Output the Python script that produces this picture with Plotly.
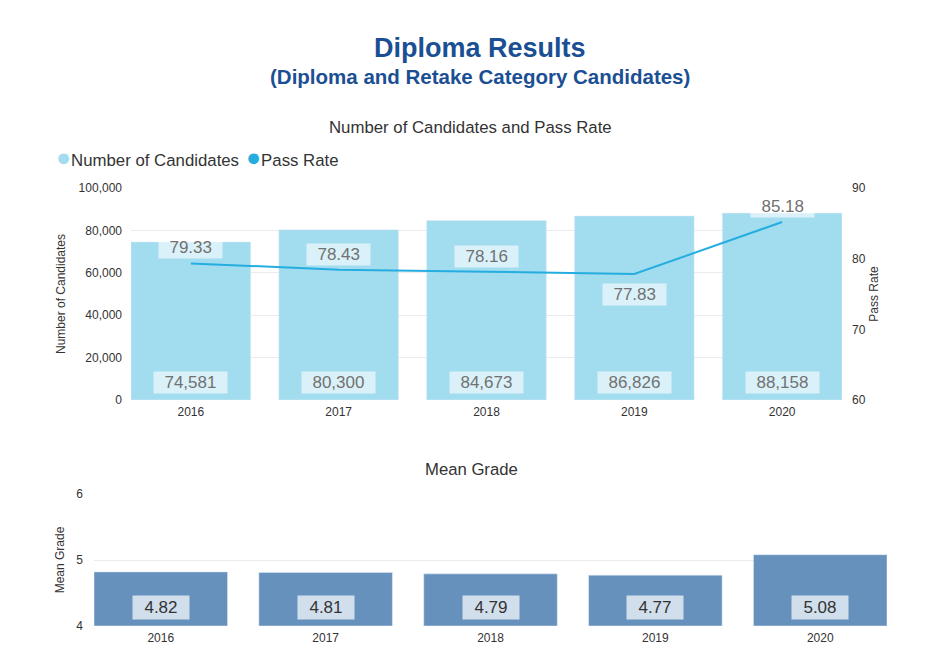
import plotly.graph_objects as go

# --- data ---
years = [2016, 2017, 2018, 2019, 2020]
candidates = [74581, 80300, 84673, 86826, 88158]
pass_rate = [79.33, 78.43, 78.16, 77.83, 85.18]
mean_grade = [4.82, 4.81, 4.79, 4.77, 5.08]
series_names = ["Number of Candidates", "Pass Rate"]

# page body keeps an 8px margin, so the figure is drawn 8px in from the corner
OFF = 8
W, H = 939 - 2 * OFF, 671 - 2 * OFF
FONT = "Liberation Sans, Arial, sans-serif"
BAR_LIGHT = "#a2dcef"
LINE_BLUE = "#26ade0"
BAR_STEEL = "#6691bd"
GRID = "#ebebeb"
TITLE_BLUE = "#1b4f93"
BAR_W = 0.81  # bars touch the plot edges, as in the original


def px_x(p):
    return (p - OFF) / W


def px_y(p):
    return 1 - (p - OFF) / H


def pad(s):
    return "\u00a0\u00a0" + s + "\u00a0\u00a0"


fig = go.Figure()

# top: candidates bars + pass rate line
fig.add_trace(go.Bar(
    x=years, y=candidates, name=series_names[0], width=BAR_W,
    marker_color=BAR_LIGHT, showlegend=False,
))
fig.add_trace(go.Scatter(
    x=years, y=pass_rate, name=series_names[1], mode="lines",
    line=dict(color=LINE_BLUE, width=2), showlegend=False,
    yaxis="y2",
))

# bottom: mean grade bars (base at axis minimum)
fig.add_trace(go.Bar(
    x=years, y=[g - 4 for g in mean_grade], base=4, width=BAR_W,
    marker_color=BAR_STEEL, showlegend=False,
    xaxis="x3", yaxis="y3",
))

annotations = []

# value boxes for candidates, sitting at the bottom of each bar
for yr, v in zip(years, candidates):
    annotations.append(dict(
        x=yr, y=0, xref="x", yref="y", text=pad(f"{v:,}"),
        showarrow=False, xanchor="center", yanchor="bottom", yshift=6,
        font=dict(family=FONT, size=17, color="#717171"),
        bgcolor="rgba(255,255,255,0.6)", borderpad=1,
    ))

# pass rate labels: below the point at a local minimum, otherwise above
for i, (yr, v) in enumerate(zip(years, pass_rate)):
    left = pass_rate[i - 1] if i > 0 else None
    right = pass_rate[i + 1] if i < len(pass_rate) - 1 else None
    below = left is not None and right is not None and v < left and v < right
    annotations.append(dict(
        x=yr, y=v, xref="x", yref="y2", text=pad(f"{v:.2f}"),
        showarrow=False, xanchor="center",
        yanchor="top" if below else "bottom",
        yshift=-9 if below else 4,
        font=dict(family=FONT, size=17, color="#717171"),
        bgcolor="rgba(255,255,255,0.6)", borderpad=1,
    ))

# mean grade boxes
for yr, v in zip(years, mean_grade):
    annotations.append(dict(
        x=yr, y=4, xref="x3", yref="y3", text=pad(f"{v:.2f}"),
        showarrow=False, xanchor="center", yanchor="bottom", yshift=6,
        font=dict(family=FONT, size=17, color="#333333"),
        bgcolor="rgba(255,255,255,0.7)", borderpad=2,
    ))

# compact legend with round dots, as in the original
for name, color, x in zip(series_names, [BAR_LIGHT, LINE_BLUE], [54, 244]):
    annotations.append(dict(
        x=px_x(x), y=px_y(157), xref="paper", yref="paper",
        text=(f'<span style="color:{color};font-size:25px">\u25cf</span>'
              f"{name}"),
        showarrow=False, xanchor="left", yanchor="middle",
        font=dict(family=FONT, size=16.8, color="#333333"),
    ))

# titles
titles = [
    ("<b>Diploma Results</b>", 480, 48, 27, TITLE_BLUE),
    ("<b>(Diploma and Retake Category Candidates)</b>", 480, 76, 20.5, TITLE_BLUE),
    ("Number of Candidates and Pass Rate", 471, 128, 16.8, "#333333"),
    ("Mean Grade", 472, 469, 16.7, "#333333"),
]
for text, x, y, size, color in titles:
    annotations.append(dict(
        x=px_x(x), y=px_y(y), xref="paper", yref="paper", text=text,
        showarrow=False, xanchor="center", yanchor="middle",
        font=dict(family=FONT, size=size, color=color),
    ))

tick_font = dict(family=FONT, size=12, color="#333333")
title_font = dict(family=FONT, size=12, color="#333333")
half = BAR_W / 2

fig.update_layout(
    width=W, height=H,
    margin=dict(l=0, r=0, t=0, b=0, autoexpand=False),
    paper_bgcolor="white", plot_bgcolor="white",
    font=dict(family=FONT, color="#333333"),
    showlegend=False,
    annotations=annotations,
    xaxis=dict(
        domain=[px_x(131), px_x(842)], anchor="y",
        range=[years[0] - half, years[-1] + half], tickvals=years,
        showgrid=False, showline=False, ticks="", ticklabelstandoff=3,
        zeroline=False, tickfont=tick_font,
    ),
    yaxis=dict(
        domain=[px_y(400), px_y(188)], anchor="x",
        range=[0, 100000], dtick=20000, tickformat=",",
        gridcolor=GRID, zeroline=False, tickfont=tick_font,
        ticklabelstandoff=8,
        title=dict(text="Number of Candidates", font=title_font, standoff=10),
    ),
    yaxis2=dict(
        overlaying="y", side="right", anchor="x",
        range=[60, 90], dtick=10, showgrid=False, zeroline=False,
        tickfont=tick_font, ticklabelstandoff=9,
        title=dict(text="Pass Rate", font=title_font, standoff=4),
    ),
    xaxis3=dict(
        domain=[px_x(94), px_x(887)], anchor="y3",
        range=[years[0] - half, years[-1] + half], tickvals=years,
        showgrid=False, showline=False, ticks="", ticklabelstandoff=3,
        zeroline=False, tickfont=tick_font,
    ),
    yaxis3=dict(
        domain=[px_y(626), px_y(494)], anchor="x3",
        range=[4, 6], dtick=1, gridcolor=GRID, zeroline=False,
        tickfont=tick_font, ticklabelstandoff=10,
        title=dict(text="Mean Grade", font=title_font, standoff=9),
    ),
)

fig.write_html("out.html")
